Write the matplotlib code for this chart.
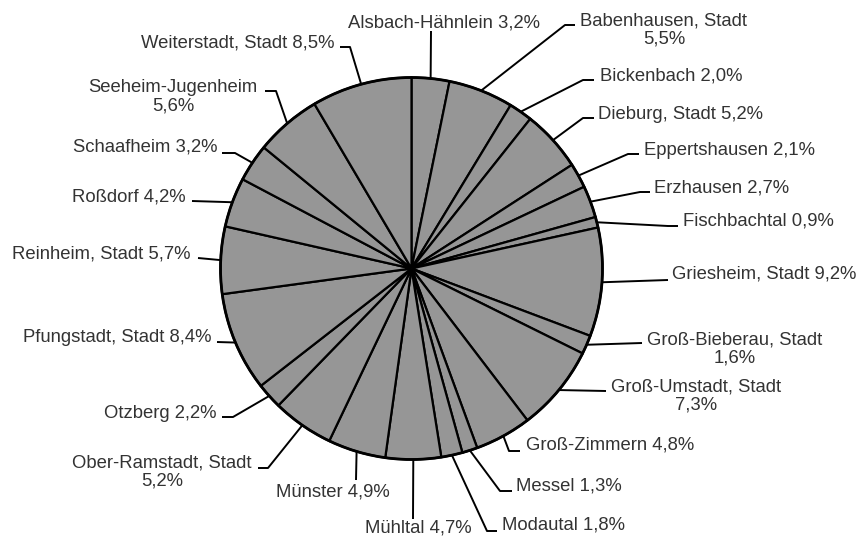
import numpy as np
import matplotlib
matplotlib.use("Agg")
import matplotlib.pyplot as plt

# ── Data ─────────────────────────────────────────────────────────────────────
names = [
    "Alsbach-Hähnlein", "Babenhausen, Stadt", "Bickenbach", "Dieburg, Stadt",
    "Eppertshausen", "Erzhausen", "Fischbachtal", "Griesheim, Stadt",
    "Groß-Bieberau, Stadt", "Groß-Umstadt, Stadt", "Groß-Zimmern", "Messel",
    "Modautal", "Mühltal", "Münster", "Ober-Ramstadt, Stadt", "Otzberg",
    "Pfungstadt, Stadt", "Reinheim, Stadt", "Roßdorf", "Schaafheim",
    "Seeheim-Jugenheim", "Weiterstadt, Stadt",
]
shares = [3.2, 5.5, 2.0, 5.2, 2.1, 2.7, 0.9, 9.2, 1.6, 7.3, 4.8, 1.3,
          1.8, 4.7, 4.9, 5.2, 2.2, 8.4, 5.7, 4.2, 3.2, 5.6, 8.5]
# labels that break onto a second line
wrapped = {"Babenhausen, Stadt", "Groß-Bieberau, Stadt", "Groß-Umstadt, Stadt",
           "Ober-Ramstadt, Stadt", "Seeheim-Jugenheim"}

# ── Layout (pixel coords, y measured from top) ───────────────────────────────
W, H = 862, 539
CX, CY, R = 411.5, 268.5, 191

label_xy = [
    (444, 23), (664, 30), (671, 76), (681, 114), (730, 150), (722, 188),
    (758, 221), (764, 274), (735, 349), (696, 396), (610, 445), (569, 486),
    (564, 525), (418, 528), (333, 492), (162, 472), (160, 413), (117, 337),
    (101, 254), (129, 197), (145, 147), (173, 97), (238, 43),
]
leaders = [
    [(431, 31)],
    [(565, 25), (575, 25)],
    [(583, 80), (594, 80)],
    [(583, 118), (594, 118)],
    [(628, 154), (639, 154)],
    [(640, 192), (650, 192)],
    [(668, 226), (678, 226)],
    [(668, 280)],
    [(642, 343)],
    [(606, 391)],
    [(509, 451), (520, 451)],
    [(500, 491), (512, 491)],
    [(487, 531), (497, 531)],
    [(413, 519)],
    [(356, 480)],
    [(268, 468), (258, 468)],
    [(233, 417), (222, 417)],
    [(217, 342)],
    [(198, 258)],
    [(192, 201)],
    [(235, 153), (222, 153)],
    [(276, 91), (265, 91)],
    [(350, 47), (340, 47)],
]

TEXT_COLOR = "#333333"
FILL = "#969696"


def fy(y):
    return H - y


plt.rcParams["font.family"] = ["Liberation Sans", "DejaVu Sans"]

fig = plt.figure(figsize=(W / 100, H / 100), dpi=100)
ax = fig.add_axes([0, 0, 1, 1])

wedges, _ = ax.pie(
    shares, startangle=90, counterclock=False, radius=R,
    center=(CX, fy(CY)), colors=[FILL] * len(shares),
    wedgeprops=dict(edgecolor="black", linewidth=1.6),
)
# thicker outer rim
ax.add_patch(plt.Circle((CX, fy(CY)), R, fill=False, edgecolor="black", lw=2.0))

for w, name, val, (tx, ty), pts in zip(wedges, names, shares, label_xy, leaders):
    pct = f"{val:.1f}".replace(".", ",") + "%"
    text = f"{name}\n{pct}" if name in wrapped else f"{name} {pct}"
    ax.text(tx, fy(ty), text, ha="center", va="center", fontsize=13.3,
            color=TEXT_COLOR, multialignment="center", linespacing=1.15)

    mid = np.deg2rad((w.theta1 + w.theta2) / 2)
    ax_x = CX + R * np.cos(mid)
    ax_y = fy(CY) + R * np.sin(mid)
    xs = [ax_x] + [p[0] for p in pts]
    ys = [ax_y] + [fy(p[1]) for p in pts]
    ax.plot(xs, ys, color="black", lw=1.4, solid_capstyle="butt")

ax.set_xlim(0, W)
ax.set_ylim(0, H)
ax.set_aspect("equal")
ax.axis("off")

fig.savefig("out.png", dpi=100)
